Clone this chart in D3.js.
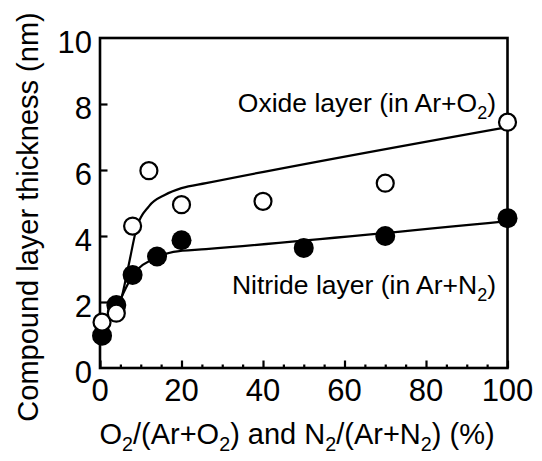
<!DOCTYPE html>
<html>
<head>
<meta charset="utf-8">
<script src="https://cdn.jsdelivr.net/npm/d3@7"></script>
<style>
  body { margin: 0; background: #fff; }
  text { font-family: Arial, "Liberation Sans", Helvetica, sans-serif; fill: #000; }
</style>
</head>
<body>
<svg id="chart" width="542" height="461"></svg>
<script>
// measured points (gas ratio %, thickness nm)
var oxideX = [0.5, 4, 8, 12, 20, 40, 70, 100]
var oxideY = [1.39, 1.66, 4.3, 5.98, 4.95, 5.05, 5.6, 7.45]
var nitrideX = [0.5, 4, 8, 14, 20, 50, 70, 100]
var nitrideY = [0.98, 1.91, 2.82, 3.38, 3.87, 3.64, 4.0, 4.54]

// fitted guide curves
var oxideFitX = [1, 3, 5, 7, 9, 12, 16, 20, 26, 100]
var oxideFitY = [1.4, 1.6, 2.0, 3.1, 4.25, 4.9, 5.25, 5.45, 5.6, 7.3]
var nitrideFitX = [1, 4.5, 8, 14, 18, 26, 100]
var nitrideFitY = [1.1, 1.95, 2.8, 3.35, 3.52, 3.6, 4.45]

var xTicks = [0, 20, 40, 60, 80, 100]
var xMinor = d3.range(0, 101, 5)
var yTicks = [0, 2, 4, 6, 8, 10]

var svg = d3.select('#chart')
var plotLeft = 100, plotRight = 507.5, plotTop = 38, plotBottom = 368

var xScale = d3.scaleLinear().domain([0, 100]).range([plotLeft, plotRight])
var yScale = d3.scaleLinear().domain([0, 10]).range([plotBottom, plotTop])

// box
svg.append('rect')
    .attr('x', plotLeft).attr('y', plotTop)
    .attr('width', plotRight - plotLeft).attr('height', plotBottom - plotTop)
    .attr('fill', 'none').attr('stroke', '#000').attr('stroke-width', 2.6)

// x ticks (inside)
var xAxis = d3.axisBottom(xScale).tickValues(xMinor).tickSize(-3.5).tickFormat('')
var gx = svg.append('g').attr('transform', `translate(0, ${plotBottom})`).call(xAxis)
gx.select('.domain').remove()
gx.selectAll('.tick line').attr('stroke-width', 2.2)
    .filter(d => d % 20 == 0).attr('y2', -7.5)

svg.append('g').selectAll('text').data(xTicks).enter().append('text')
    .attr('x', d => xScale(d)).attr('y', 401)
    .attr('text-anchor', 'middle').style('font-size', '31px')
    .text(d => d)

// y ticks (inside)
var yAxis = d3.axisLeft(yScale).tickValues(yTicks.slice(1, 5)).tickSize(-7.5).tickFormat('')
var gy = svg.append('g').attr('transform', `translate(${plotLeft}, 0)`).call(yAxis)
gy.select('.domain').remove()
gy.selectAll('.tick line').attr('stroke-width', 2.2)

svg.append('g').selectAll('text').data(yTicks).enter().append('text')
    .attr('x', 92).attr('y', d => yScale(d) + 15)
    .attr('text-anchor', 'end').style('font-size', '31px')
    .text(d => d)

// fitted curves
var line = d3.line().x(d => xScale(d[0])).y(d => yScale(d[1])).curve(d3.curveMonotoneX)
svg.append('path').datum(d3.zip(oxideFitX, oxideFitY))
    .attr('d', line).attr('fill', 'none').attr('stroke', '#000').attr('stroke-width', 2.2)
svg.append('path').datum(d3.zip(nitrideFitX, nitrideFitY))
    .attr('d', line).attr('fill', 'none').attr('stroke', '#000').attr('stroke-width', 2.2)

// markers
svg.append('g').selectAll('circle').data(d3.zip(nitrideX, nitrideY)).enter().append('circle')
    .attr('cx', d => xScale(d[0])).attr('cy', d => yScale(d[1])).attr('r', 10)
    .attr('fill', '#000')
svg.append('g').selectAll('circle').data(d3.zip(oxideX, oxideY)).enter().append('circle')
    .attr('cx', d => xScale(d[0])).attr('cy', d => yScale(d[1])).attr('r', 8.5)
    .attr('fill', '#fff').attr('stroke', '#000').attr('stroke-width', 2.2)

// text with subscript 2
function subText(g, parts, size) {
    parts.forEach(function (p) {
        if (p.sub) {
            g.append('tspan').attr('dy', size * 0.25).style('font-size', (size * 0.68) + 'px').text(p.t)
        } else {
            g.append('tspan').attr('dy', p.after ? -size * 0.25 : 0).text(p.t)
        }
    })
}

var oxLabel = svg.append('text').attr('x', 496).attr('y', 112)
    .attr('text-anchor', 'end').style('font-size', '26.5px')
subText(oxLabel, [{t: 'Oxide layer (in Ar+O'}, {t: '2', sub: true}, {t: ')', after: true}], 26.5)

var niLabel = svg.append('text').attr('x', 496).attr('y', 294)
    .attr('text-anchor', 'end').style('font-size', '26.5px')
subText(niLabel, [{t: 'Nitride layer (in Ar+N'}, {t: '2', sub: true}, {t: ')', after: true}], 26.5)

// axis titles
var xLabel = svg.append('text').attr('x', 297).attr('y', 444)
    .attr('text-anchor', 'middle').style('font-size', '29px')
subText(xLabel, [{t: 'O'}, {t: '2', sub: true}, {t: '/(Ar+O', after: true}, {t: '2', sub: true},
    {t: ') and N', after: true}, {t: '2', sub: true}, {t: '/(Ar+N', after: true}, {t: '2', sub: true},
    {t: ') (%)', after: true}], 29)

svg.append('text')
    .attr('transform', 'translate(38, 217) rotate(-90)')
    .attr('text-anchor', 'middle').style('font-size', '29px')
    .text('Compound layer thickness (nm)')
</script>
</body>
</html>
